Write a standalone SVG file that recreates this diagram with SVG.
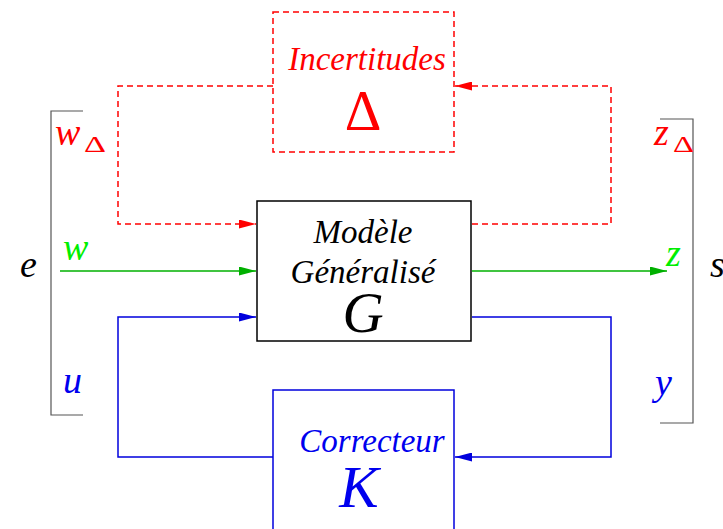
<svg xmlns="http://www.w3.org/2000/svg" width="723" height="529" viewBox="0 0 723 529">
<defs>
<marker id="ar" markerWidth="17" markerHeight="9" refX="17" refY="4.5" orient="auto" markerUnits="userSpaceOnUse"><path d="M0,0 L17,4.5 L0,9 z" fill="#ff0000"/></marker>
<marker id="ag" markerWidth="17" markerHeight="9" refX="17" refY="4.5" orient="auto" markerUnits="userSpaceOnUse"><path d="M0,0 L17,4.5 L0,9 z" fill="#00b000"/></marker>
<marker id="ab" markerWidth="17" markerHeight="9" refX="17" refY="4.5" orient="auto" markerUnits="userSpaceOnUse"><path d="M0,0 L17,4.5 L0,9 z" fill="#0000dd"/></marker>
</defs>
<style>
.t{font-family:"Liberation Serif",serif;font-style:italic}
.u{font-family:"Liberation Serif",serif}
.red{fill:#ff0000}
.blue{fill:#0000ee}
.green{fill:#00ee00}
.blk{fill:#000}
.dr{fill:none;stroke:#ff0000;stroke-width:1.5;stroke-dasharray:6,4}
.br{fill:none;stroke:#555;stroke-width:1.2}
</style>
<rect width="723" height="529" fill="#fff"/>
<g id="connectors">
<path class="dr" d="M273,86 H118 V224 H256" marker-end="url(#ar)"/>
<path class="dr" d="M472,224 H611 V86 H455" marker-end="url(#ar)"/>
<path d="M60,271 H256" fill="none" stroke="#00b000" stroke-width="1.5" marker-end="url(#ag)"/>
<path d="M472,271 H667" fill="none" stroke="#00b000" stroke-width="1.5" marker-end="url(#ag)"/>
<path d="M273,457 H118 V317 H256" fill="none" stroke="#0000dd" stroke-width="1.5" marker-end="url(#ab)"/>
<path d="M472,317 H611 V457 H455" fill="none" stroke="#0000dd" stroke-width="1.5" marker-end="url(#ab)"/>
</g>
<g id="incertitudes">
<rect class="dr" x="273" y="12" width="181" height="140"/>
<text class="t red" x="367" y="70" font-size="33" text-anchor="middle">Incertitudes</text>
<text class="u red" x="363" y="130" font-size="57" text-anchor="middle">Δ</text>
</g>
<g id="modele">
<rect x="257" y="201" width="214" height="140" fill="none" stroke="#000" stroke-width="1.5"/>
<text class="t blk" x="363" y="243" font-size="33" text-anchor="middle">Modèle</text>
<text class="t blk" x="363" y="283" font-size="33" text-anchor="middle">Généralisé</text>
<text class="t blk" x="363" y="332" font-size="57" text-anchor="middle">G</text>
</g>
<g id="correcteur">
<rect x="273" y="390" width="181" height="150" fill="none" stroke="#0000dd" stroke-width="1.5"/>
<text class="t blue" x="372" y="452" font-size="33" text-anchor="middle">Correcteur</text>
<text class="t blue" x="359" y="507" font-size="59" text-anchor="middle">K</text>
</g>
<g id="brackets">
<path class="br" d="M83,111 H51 V415 H83"/>
<path class="br" d="M660,119 H693 V423 H660"/>
</g>
<g id="labels">
<text class="t blk" x="20" y="277" font-size="38">e</text>
<text class="t red" x="55" y="145" font-size="38">w</text>
<text class="u red" x="84" y="152" font-size="23" textLength="22" lengthAdjust="spacingAndGlyphs">Δ</text>
<text class="t green" x="63" y="260" font-size="38">w</text>
<text class="t blue" x="63" y="393" font-size="38">u</text>
<text class="t red" x="654" y="145" font-size="38">z</text>
<text class="u red" x="673" y="152" font-size="23" textLength="21" lengthAdjust="spacingAndGlyphs">Δ</text>
<text class="t green" x="666" y="266" font-size="38">z</text>
<text class="t blue" x="655" y="395" font-size="38">y</text>
<text class="t blk" x="710" y="277" font-size="38">s</text>
</g>
</svg>
